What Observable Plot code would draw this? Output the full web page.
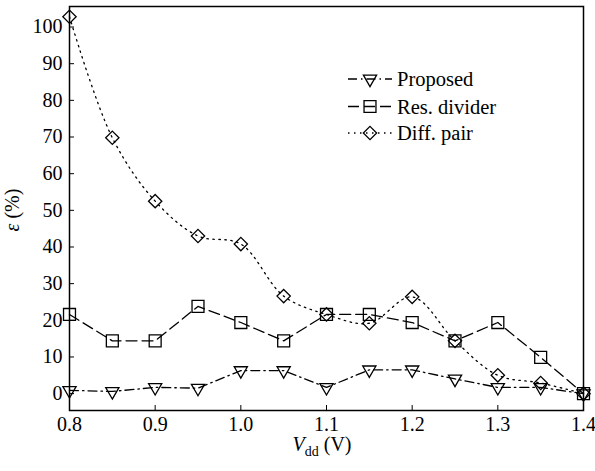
<!DOCTYPE html>
<html><head><meta charset="utf-8">
<script src="https://cdn.jsdelivr.net/npm/d3@7"></script>
<script src="https://cdn.jsdelivr.net/npm/@observablehq/plot@0.6"></script>
<style>
body{margin:0;background:#fff;}
#chart{position:relative;width:595px;height:471px;font-family:"Liberation Serif","Times New Roman","DejaVu Serif",serif;}
#overlay{position:absolute;left:0;top:0;pointer-events:none;}
</style></head><body><div id="chart"></div>
<script>
// ---- data ----
const vdd        = [0.80, 0.85, 0.90, 0.95, 1.00, 1.05, 1.10, 1.15, 1.20, 1.25, 1.30, 1.35, 1.40];
const proposed   = [0.9, 0.6, 1.7, 1.5, 6.3, 6.3, 1.7, 6.5, 6.5, 4.0, 1.7, 1.7, 0.0];
const resDivider = [21.6, 14.4, 14.4, 23.8, 19.4, 14.4, 21.6, 21.6, 19.4, 14.4, 19.4, 9.9, 0.0];
const diffPair   = [102.8, 69.8, 52.5, 43.0, 40.8, 26.6, 21.6, 19.2, 26.4, 14.4, 5.0, 2.9, 0.0];
const xTicks = [0.8, 0.9, 1.0, 1.1, 1.2, 1.3, 1.4];
const yTicks = [0, 10, 20, 30, 40, 50, 60, 70, 80, 90, 100];
const seriesNames = ["Proposed", "Res. divider", "Diff. pair"];

const FONT = "'Liberation Serif','Times New Roman','DejaVu Serif',serif";

const triDown = {draw(ctx, size){
  const r = Math.sqrt(size) * 0.6824, t = r * Math.sqrt(3) / 2, s = r / 2;
  ctx.moveTo(0, r); ctx.lineTo(t, -s); ctx.lineTo(-t, -s); ctx.closePath();
}};

const series = [
  {name: seriesNames[0], values: proposed,   dash: "9,4,1.5,4", curve: "linear",      symbol: triDown,   r: 6.3},
  {name: seriesNames[1], values: resDivider, dash: "11,5",      curve: "linear",      symbol: "square2", r: 7.6},
  {name: seriesNames[2], values: diffPair,   dash: "1.5,4.5",   curve: "catmull-rom", symbol: "diamond2", r: 6.0}
];
const rows = series.map(s => vdd.map((x, i) => ({x, y: s.values[i]})));

const ink = "#000";
const marks = [];
series.forEach((s, k) => {
  marks.push(Plot.line(rows[k], {x: "x", y: "y", stroke: ink, strokeWidth: 1.3, strokeDasharray: s.dash, curve: s.curve}));
});
series.forEach((s, k) => {
  marks.push(Plot.dot(rows[k], {x: "x", y: "y", symbol: s.symbol, r: s.r, stroke: ink, strokeWidth: 1.3, fill: "none"}));
});

const chart = Plot.plot({
  width: 595, height: 471,
  marginLeft: 69, marginRight: 12, marginTop: 6, marginBottom: 61,
  style: {fontFamily: FONT, fontSize: "20px", color: "#000", background: "#fff"},
  x: {domain: [0.8, 1.4], label: null},
  y: {domain: [-4.6, 105.6], label: null},
  marks: [
    Plot.axisX({ticks: xTicks, tickSize: -5, tickPadding: 11, tickFormat: d => d.toFixed(1), label: null, fontFamily: FONT}),
    Plot.axisY({ticks: yTicks, tickSize: -5, tickPadding: 12, label: null, fontFamily: FONT}),
    ...marks,
    Plot.frame({stroke: ink, strokeWidth: 1.5})
  ]
});
const host = document.getElementById("chart");
host.appendChild(chart);

// overlay: axis titles and legend
const svg = d3.select(host).append("svg").attr("id", "overlay")
  .attr("width", 595).attr("height", 471)
  .attr("font-family", FONT);

const yl = svg.append("text").attr("transform", "translate(19,210) rotate(-90)")
  .attr("text-anchor", "middle").attr("font-size", 20);
yl.append("tspan").attr("font-style", "italic").text("ε");
yl.append("tspan").text(" (%)");

const xl = svg.append("text").attr("x", 322).attr("y", 451)
  .attr("text-anchor", "middle").attr("font-size", 20);
xl.append("tspan").attr("font-style", "italic").text("V");
xl.append("tspan").attr("font-size", 14).attr("dy", 5).text("dd");
xl.append("tspan").attr("dy", -5).text(" (V)");

const legY = [79, 106.5, 133];
series.forEach((s, k) => {
  const g = svg.append("g").attr("transform", `translate(0,${legY[k]})`);
  g.append("line").attr("x1", 348).attr("x2", 392).attr("y1", 0).attr("y2", 0)
    .attr("stroke", ink).attr("stroke-width", 1.3).attr("stroke-dasharray", s.dash);
  const sym = typeof s.symbol === "string"
    ? {square2: d3.symbolSquare2, diamond2: d3.symbolDiamond2}[s.symbol] : s.symbol;
  g.append("path").attr("transform", "translate(370,0)")
    .attr("d", d3.symbol(sym, Math.PI * s.r * s.r)())
    .attr("fill", "none").attr("stroke", ink).attr("stroke-width", 1.3);
  g.append("text").attr("x", 397).attr("y", 7).attr("font-size", 20.5).text(s.name);
});
</script></body></html>
